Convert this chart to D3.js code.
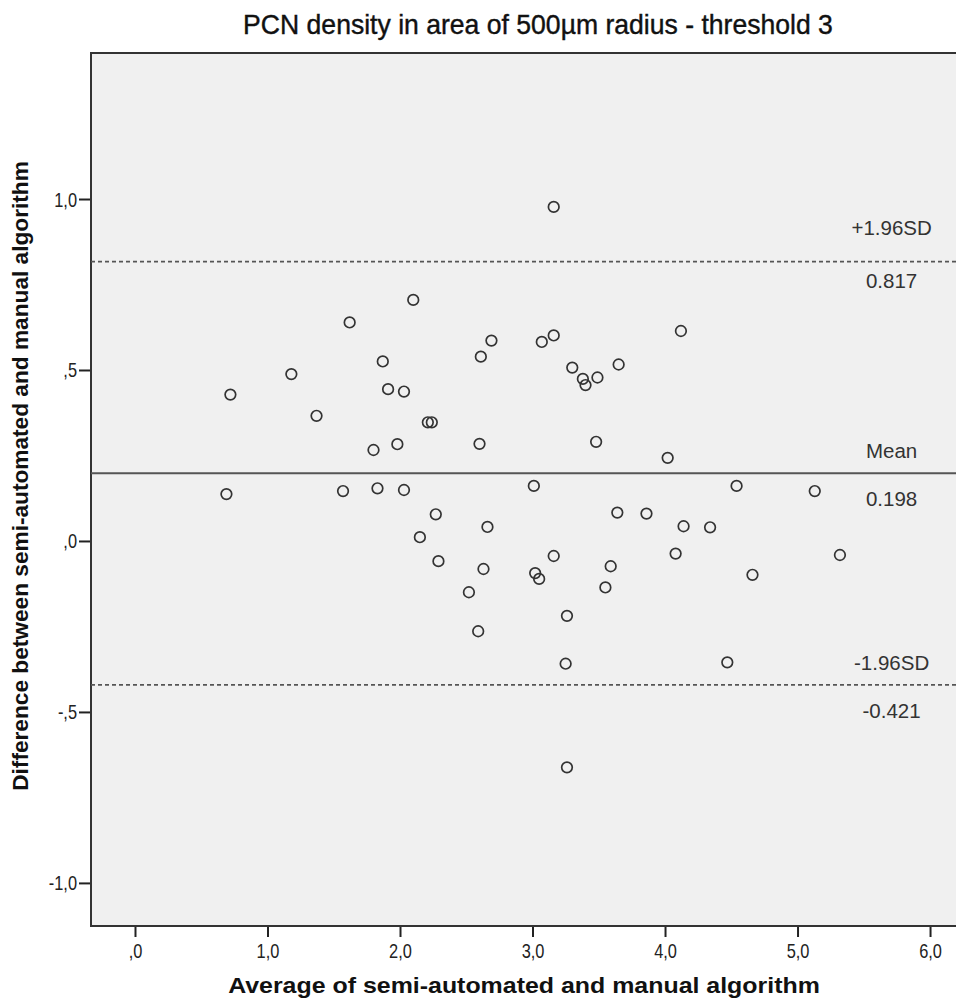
<!DOCTYPE html>
<html>
<head>
<meta charset="utf-8">
<script src="https://cdn.jsdelivr.net/npm/d3@7"></script>
<style>
  body { margin: 0; background: #ffffff; }
  .refText { font-family: "Liberation Sans", Arial, sans-serif; font-size: 20.5px; fill: #333; }
</style>
</head>
<body>
<div id="chart"></div>
<script>
// Bland-Altman data: average (x) and difference (y) of the two algorithms
var avgValues = [0.72, 0.69, 1.18, 1.37, 1.62, 1.57, 1.80, 1.83, 1.87, 1.91, 1.98, 2.03, 2.03,
  2.10, 2.15, 2.21, 2.24, 2.27, 2.29, 2.52, 2.59, 2.60, 2.61, 2.63, 2.66, 2.69, 3.01, 3.02,
  3.05, 3.07, 3.16, 3.16, 3.16, 3.26, 3.25, 3.26, 3.30, 3.38, 3.40, 3.49, 3.48, 3.55, 3.59,
  3.64, 3.65, 3.86, 4.02, 4.08, 4.12, 4.14, 4.34, 4.47, 4.54, 4.66, 5.13, 5.32];
var diffValues = [0.428, 0.137, 0.488, 0.366, 0.639, 0.146, 0.266, 0.154, 0.525, 0.444, 0.283, 0.437, 0.149,
  0.705, 0.011, 0.347, 0.347, 0.078, -0.059, -0.150, -0.264, 0.284, 0.539, -0.082, 0.041, 0.586, 0.161, -0.094,
  -0.111, 0.582, 0.977, 0.601, -0.044, -0.219, -0.359, -0.662, 0.507, 0.474, 0.456, 0.478, 0.290, -0.136, -0.074,
  0.083, 0.516, 0.080, 0.243, -0.037, 0.614, 0.043, 0.040, -0.355, 0.161, -0.099, 0.146, -0.041];

// reference lines
var meanDiff = 0.198;
var upperLimit = 0.817;
var lowerLimit = -0.421;

// tick values and labels
var xTicks = [0, 1, 2, 3, 4, 5, 6];
var xTickLabels = [",0", "1,0", "2,0", "3,0", "4,0", "5,0", "6,0"];
var yTicks = [1, 0.5, 0, -0.5, -1];
var yTickLabels = ["1,0", ",5", ",0", "-,5", "-1,0"];

var chartTitle = "PCN density in area of 500\u00b5m radius - threshold 3";
var xTitle = "Average of semi-automated and manual algorithm";
var yTitle = "Difference between semi-automated and manual algorithm";

// define svg area
var svgWidth = 956;
var svgHeight = 998;

var margin = { top: 53, right: -2, bottom: 72, left: 91 };
var chartWidth = svgWidth - margin.left - margin.right;
var chartHeight = svgHeight - margin.top - margin.bottom;

var svg = d3.select("#chart")
  .append("svg")
  .attr("width", svgWidth)
  .attr("height", svgHeight);

var chartGroup = svg.append("g")
  .attr("transform", `translate(${margin.left}, ${margin.top})`);

// squeeze a text horizontally (no narrow font installed)
function condense(textSel, targetWidth) {
  var w = textSel.node().getComputedTextLength();
  textSel.attr("transform", `scale(${targetWidth / w}, 1)`);
}

// scales
var xLinearScale = d3.scaleLinear()
  .domain([-0.332, 6.211])
  .range([0, chartWidth]);

var yLinearScale = d3.scaleLinear()
  .domain([-1.126, 1.427])
  .range([chartHeight, 0]);

// plot background
chartGroup.append("rect")
  .attr("x", 0)
  .attr("y", 0)
  .attr("width", chartWidth)
  .attr("height", chartHeight)
  .attr("fill", "#f0f0f0")
  .attr("stroke", "#333")
  .attr("stroke-width", 2);

// axes
var bottomAxis = d3.axisBottom(xLinearScale)
  .tickValues(xTicks)
  .tickSize(10)
  .tickPadding(4)
  .tickFormat((d, i) => xTickLabels[i]);

var leftAxis = d3.axisLeft(yLinearScale)
  .tickValues(yTicks)
  .tickSize(11)
  .tickPadding(2)
  .tickFormat((d, i) => yTickLabels[i]);

var xAxis = chartGroup.append("g")
  .attr("transform", `translate(0, ${chartHeight + 1})`)
  .call(bottomAxis);

var yAxis = chartGroup.append("g")
  .attr("transform", "translate(-1, 0)")
  .call(leftAxis);

xAxis.select(".domain").remove();
yAxis.select(".domain").remove();
xAxis.selectAll(".tick line").attr("stroke", "#222").attr("stroke-width", 2);
yAxis.selectAll(".tick line").attr("stroke", "#222").attr("stroke-width", 2);
[xAxis, yAxis].forEach(function(ax) {
  ax.attr("font-family", "'Liberation Sans', Arial, sans-serif")
    .attr("font-size", 20);
  ax.selectAll(".tick text").attr("fill", "#222");
});
xAxis.selectAll(".tick text")
  .attr("dy", "0.85em")
  .attr("transform", "scale(0.82, 1)");
yAxis.selectAll(".tick text")
  .attr("dy", "0.35em")
  .attr("x", -13 / 0.82)
  .attr("transform", "scale(0.82, 1)");

// reference lines
var refLines = [
  { value: upperLimit, dash: "4,3", width: 1.6, top: "+1.96SD", bottom: "0.817", dyTop: -27, dyBottom: 26 },
  { value: meanDiff, dash: null, width: 2.2, top: "Mean", bottom: "0.198", dyTop: -15, dyBottom: 33 },
  { value: lowerLimit, dash: "4,3", width: 1.6, top: "-1.96SD", bottom: "-0.421", dyTop: -15, dyBottom: 33 }
];

refLines.forEach(function(r) {
  chartGroup.append("line")
    .attr("x1", 0)
    .attr("x2", chartWidth)
    .attr("y1", yLinearScale(r.value))
    .attr("y2", yLinearScale(r.value))
    .attr("stroke", "#555")
    .attr("stroke-width", r.width)
    .attr("stroke-dasharray", r.dash);

  chartGroup.append("text")
    .classed("refText", true)
    .attr("x", xLinearScale(5.71))
    .attr("y", yLinearScale(r.value) + r.dyTop)
    .attr("text-anchor", "middle")
    .text(r.top);

  chartGroup.append("text")
    .classed("refText", true)
    .attr("x", xLinearScale(5.71))
    .attr("y", yLinearScale(r.value) + r.dyBottom)
    .attr("text-anchor", "middle")
    .text(r.bottom);
});

// points
var pointData = avgValues.map((d, i) => ({ avg: d, diff: diffValues[i] }));

chartGroup.selectAll("circle.pt")
  .data(pointData)
  .enter()
  .append("circle")
  .classed("pt", true)
  .attr("cx", d => xLinearScale(d.avg))
  .attr("cy", d => yLinearScale(d.diff))
  .attr("r", 5.3)
  .attr("fill", "none")
  .attr("stroke", "#333")
  .attr("stroke-width", 1.7);

// title
var titleText = svg.append("g")
  .attr("transform", "translate(538, 34)")
  .append("text")
  .attr("text-anchor", "middle")
  .attr("font-family", "'Liberation Sans', Arial, sans-serif")
  .attr("font-size", 27)
  .attr("fill", "#111")
  .attr("stroke", "#111")
  .attr("stroke-width", 0.4)
  .text(chartTitle);
condense(titleText, 590);

// axis titles
var xTitleText = svg.append("g")
  .attr("transform", "translate(524, 993)")
  .append("text")
  .attr("text-anchor", "middle")
  .attr("font-family", "'Liberation Sans', Arial, sans-serif")
  .attr("font-weight", "bold")
  .attr("font-size", 22)
  .attr("fill", "#111")
  .text(xTitle);
condense(xTitleText, 592);

var yTitleText = svg.append("g")
  .attr("transform", "translate(28, 476) rotate(-90)")
  .append("text")
  .attr("text-anchor", "middle")
  .attr("font-family", "'Liberation Sans', Arial, sans-serif")
  .attr("font-weight", "bold")
  .attr("font-size", 22)
  .attr("fill", "#111")
  .text(yTitle);
condense(yTitleText, 630);
</script>
</body>
</html>
